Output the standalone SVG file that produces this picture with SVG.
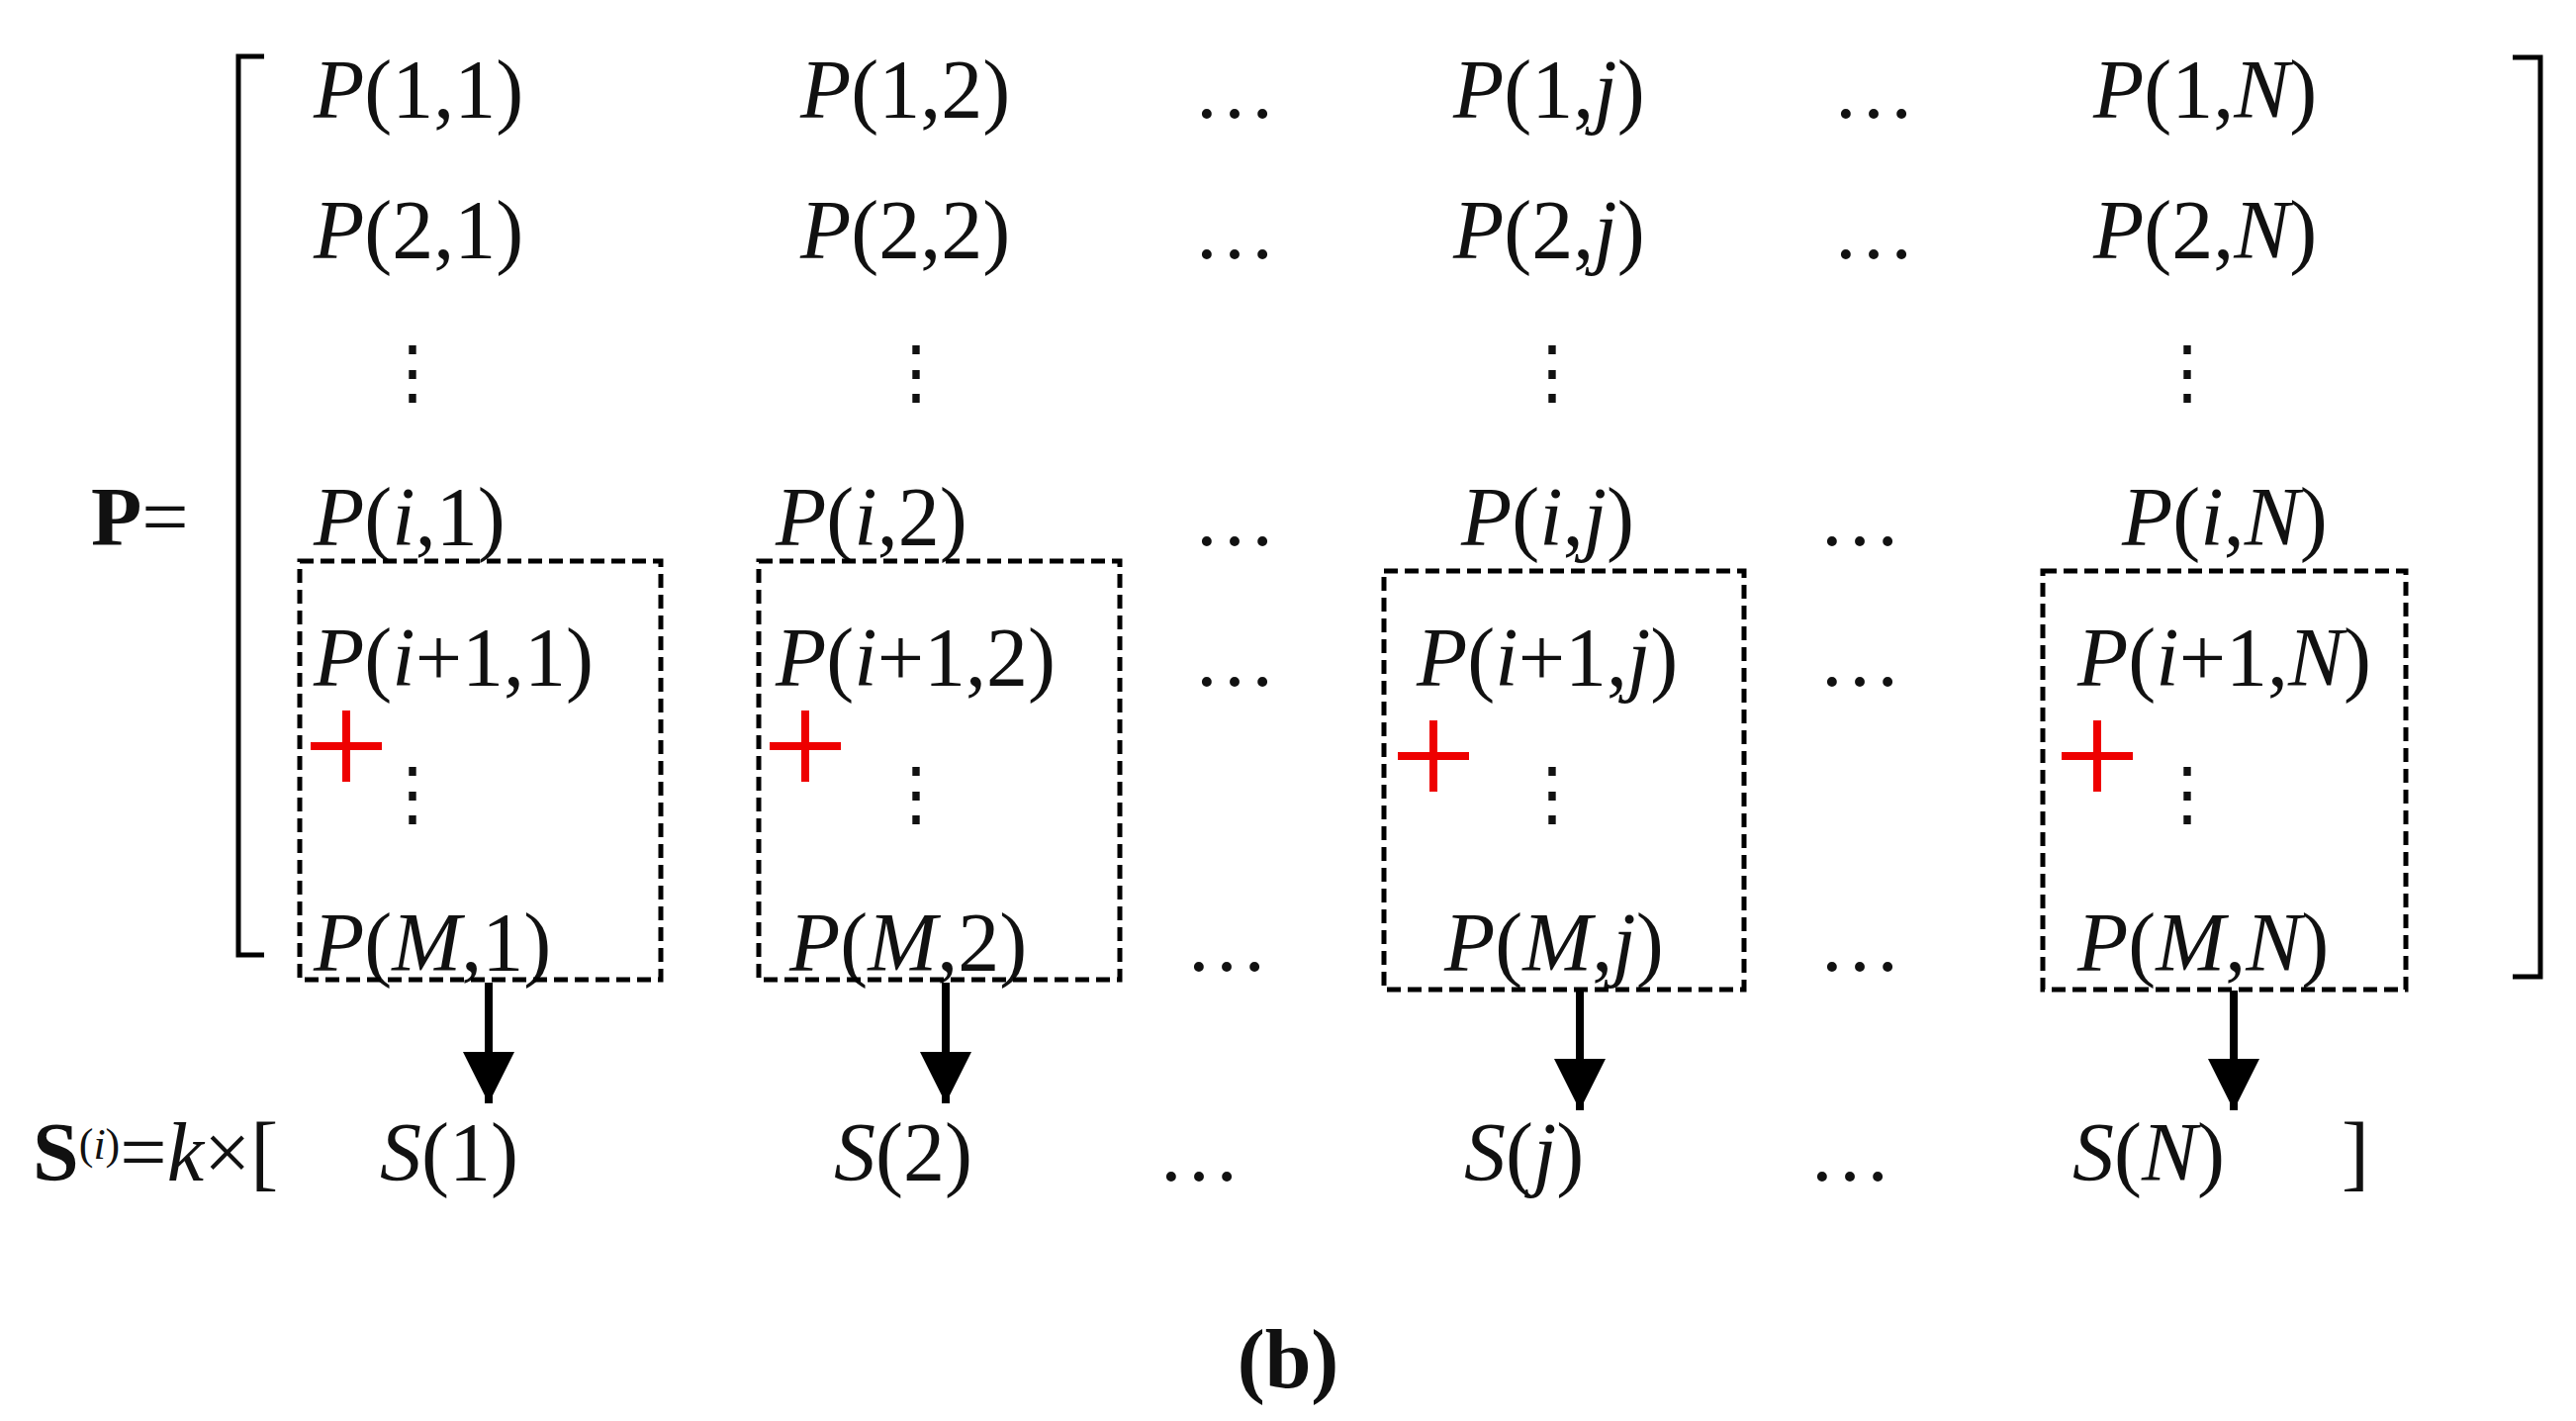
<svg xmlns="http://www.w3.org/2000/svg" width="2604" height="1436" viewBox="0 0 2604 1436">
<style>
text{font-family:"Liberation Serif","DejaVu Serif",serif;font-size:84px;fill:#111}
.it{font-style:italic}
.b{font-weight:bold}
.v{font-size:72px}
.box{fill:none;stroke:#000;stroke-width:5;stroke-dasharray:14 7}
.red{stroke:#e00;stroke-width:8;fill:none}
.br{fill:none;stroke:#000;stroke-width:5}
.ar{stroke:#000;stroke-width:8}
</style>
<defs>
<marker id="ah" viewBox="0 0 10 10" refX="10" refY="5" markerWidth="6.5" markerHeight="7.5" markerUnits="strokeWidth" orient="auto"><path d="M0,0L10,5L0,10z" fill="#000"/></marker>
</defs>
<g id="brackets">
<path class="br" d="M267,57H241V965H267"/>
<path class="br" d="M2540,58H2568V987H2540"/>
</g>
<g id="labels">
<text x="92" y="551"><tspan class="b">P</tspan>=</text>
<text x="33" y="1193"><tspan class="b">S</tspan><tspan font-size="44" dy="-22">(<tspan class="it">i</tspan>)</tspan><tspan dy="22">=</tspan><tspan class="it">k</tspan>×[</text>
<text x="2367" y="1193">]</text>
<text x="1302" y="1402" text-anchor="middle" class="b">(b)</text>
</g>
<g id="matrix">
<text x="317" y="119"><tspan class="it">P</tspan>(1,1)</text>
<text x="809" y="119"><tspan class="it">P</tspan>(1,2)</text>
<text x="1248" y="119" text-anchor="middle">…</text>
<text x="1469" y="119"><tspan class="it">P</tspan>(1,<tspan class="it">j</tspan>)</text>
<text x="1894" y="119" text-anchor="middle">…</text>
<text x="2116" y="119"><tspan class="it">P</tspan>(1,<tspan class="it">N</tspan>)</text>
<text x="317" y="261"><tspan class="it">P</tspan>(2,1)</text>
<text x="809" y="261"><tspan class="it">P</tspan>(2,2)</text>
<text x="1248" y="261" text-anchor="middle">…</text>
<text x="1469" y="261"><tspan class="it">P</tspan>(2,<tspan class="it">j</tspan>)</text>
<text x="1894" y="261" text-anchor="middle">…</text>
<text x="2116" y="261"><tspan class="it">P</tspan>(2,<tspan class="it">N</tspan>)</text>
<text class="v" x="417" y="400" text-anchor="middle">⋮</text>
<text class="v" x="926" y="400" text-anchor="middle">⋮</text>
<text class="v" x="1569" y="400" text-anchor="middle">⋮</text>
<text class="v" x="2211" y="400" text-anchor="middle">⋮</text>
<text x="317" y="551"><tspan class="it">P</tspan>(<tspan class="it">i</tspan>,1)</text>
<text x="784" y="551"><tspan class="it">P</tspan>(<tspan class="it">i</tspan>,2)</text>
<text x="1248" y="551" text-anchor="middle">…</text>
<text x="1477" y="551"><tspan class="it">P</tspan>(<tspan class="it">i</tspan>,<tspan class="it">j</tspan>)</text>
<text x="1880" y="551" text-anchor="middle">…</text>
<text x="2145" y="551"><tspan class="it">P</tspan>(<tspan class="it">i</tspan>,<tspan class="it">N</tspan>)</text>
<text x="317" y="693"><tspan class="it">P</tspan>(<tspan class="it">i</tspan>+1,1)</text>
<text x="784" y="693"><tspan class="it">P</tspan>(<tspan class="it">i</tspan>+1,2)</text>
<text x="1248" y="693" text-anchor="middle">…</text>
<text x="1432" y="693"><tspan class="it">P</tspan>(<tspan class="it">i</tspan>+1,<tspan class="it">j</tspan>)</text>
<text x="1880" y="693" text-anchor="middle">…</text>
<text x="2100" y="693"><tspan class="it">P</tspan>(<tspan class="it">i</tspan>+1,<tspan class="it">N</tspan>)</text>
<text class="v" x="417" y="826" text-anchor="middle">⋮</text>
<text class="v" x="926" y="826" text-anchor="middle">⋮</text>
<text class="v" x="1569" y="826" text-anchor="middle">⋮</text>
<text class="v" x="2211" y="826" text-anchor="middle">⋮</text>
<text x="317" y="981"><tspan class="it">P</tspan>(<tspan class="it">M</tspan>,1)</text>
<text x="798" y="981"><tspan class="it">P</tspan>(<tspan class="it">M</tspan>,2)</text>
<text x="1240" y="981" text-anchor="middle">…</text>
<text x="1460" y="981"><tspan class="it">P</tspan>(<tspan class="it">M</tspan>,<tspan class="it">j</tspan>)</text>
<text x="1880" y="981" text-anchor="middle">…</text>
<text x="2100" y="981"><tspan class="it">P</tspan>(<tspan class="it">M</tspan>,<tspan class="it">N</tspan>)</text>
<text x="384" y="1193"><tspan class="it">S</tspan>(1)</text>
<text x="843" y="1193"><tspan class="it">S</tspan>(2)</text>
<text x="1212" y="1193" text-anchor="middle">…</text>
<text x="1480" y="1193"><tspan class="it">S</tspan>(<tspan class="it">j</tspan>)</text>
<text x="1870" y="1193" text-anchor="middle">…</text>
<text x="2095" y="1193"><tspan class="it">S</tspan>(<tspan class="it">N</tspan>)</text>
</g>
<g id="box1"><rect class="box" x="303" y="567" width="365" height="423"/><path class="red" d="M314,754H386M350,718V790"/></g>
<g id="box2"><rect class="box" x="767" y="567" width="365" height="423"/><path class="red" d="M778,754H850M814,718V790"/></g>
<g id="box3"><rect class="box" x="1399" y="577" width="364" height="423"/><path class="red" d="M1413,764H1485M1449,728V800"/></g>
<g id="box4"><rect class="box" x="2065" y="577" width="367" height="423"/><path class="red" d="M2084,764H2156M2120,728V800"/></g>
<g id="connectors">
<line class="ar" x1="494" y1="993" x2="494" y2="1115" marker-end="url(#ah)"/>
<line class="ar" x1="956" y1="993" x2="956" y2="1115" marker-end="url(#ah)"/>
<line class="ar" x1="1597" y1="1001" x2="1597" y2="1122" marker-end="url(#ah)"/>
<line class="ar" x1="2258" y1="1001" x2="2258" y2="1122" marker-end="url(#ah)"/>
</g>
</svg>
